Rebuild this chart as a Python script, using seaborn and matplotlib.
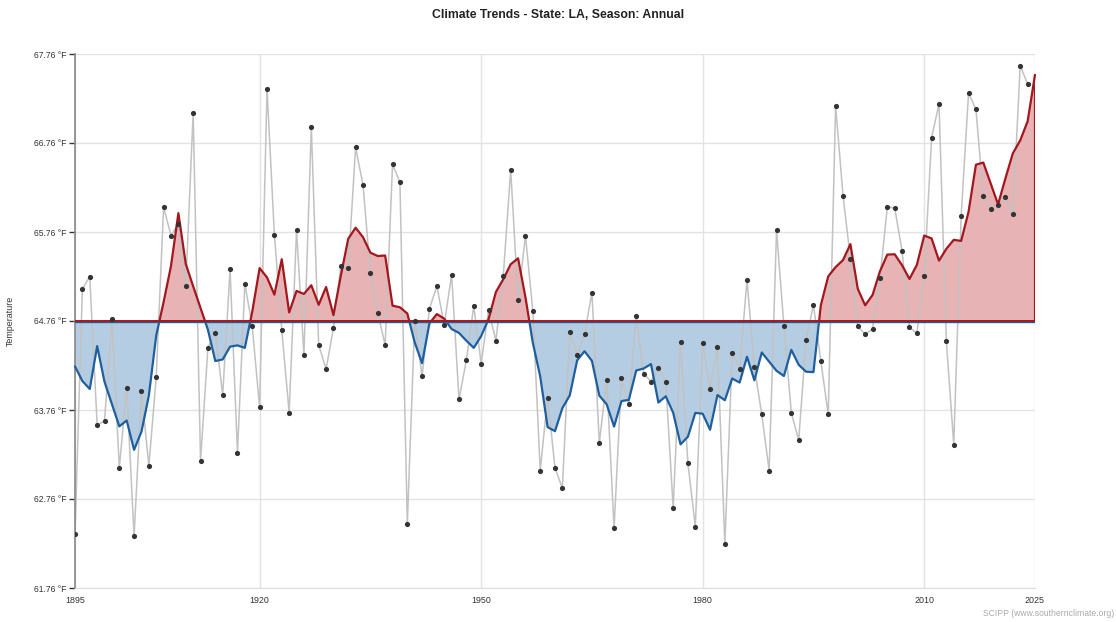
import numpy as np
import pandas as pd
import seaborn as sns
import matplotlib.pyplot as plt
from matplotlib.patches import Rectangle

# annual mean temperature, Louisiana [F]; 2025 has no value yet
years = list(range(1895, 2026))
temps = [62.37, 65.12, 65.26, 63.59, 63.64, 64.78, 63.11, 64.01, 62.34, 63.97,
         63.13, 64.13, 66.04, 65.72, 65.85, 65.15, 67.10, 63.19, 64.46, 64.63,
         63.93, 65.34, 63.28, 65.18, 64.70, 63.79, 67.37, 65.73, 64.66, 63.73,
         65.78, 64.38, 66.94, 64.49, 64.22, 64.68, 65.38, 65.36, 66.71, 66.29,
         65.30, 64.85, 64.49, 66.52, 66.32, 62.48, 64.76, 64.14, 64.90, 65.15,
         64.72, 65.28, 63.88, 64.32, 64.93, 64.28, 64.88, 64.54, 65.27, 66.46,
         65.00, 65.72, 64.87, 63.08, 63.90, 63.11, 62.88, 64.64, 64.38, 64.61,
         65.08, 63.39, 64.10, 62.43, 64.12, 63.83, 64.82, 64.17, 64.08, 64.23,
         64.08, 62.66, 64.52, 63.16, 62.45, 64.51, 64.00, 64.47, 62.26, 64.40,
         64.22, 65.22, 64.24, 63.71, 63.08, 65.78, 64.70, 63.73, 63.42, 64.55,
         64.94, 64.31, 63.71, 67.18, 66.17, 65.46, 64.70, 64.61, 64.67, 65.24,
         66.04, 66.03, 65.55, 64.69, 64.62, 65.27, 66.82, 67.20, 64.53, 63.37,
         65.94, 67.32, 67.14, 66.16, 66.02, 66.06, 66.15, 65.96, 67.63, 67.42,
         np.nan]
baseline = 64.76
y_ticks = [61.76, 62.76, 63.76, 64.76, 65.76, 66.76, 67.76]
x_ticks = [1895, 1920, 1950, 1980, 2010, 2025]

df = pd.DataFrame({"year": years, "temp": temps})
# 5 year centred running mean, as drawn by the original chart
df["trend"] = df["temp"].rolling(5, center=True, min_periods=1).mean()

sns.set_style("white")
plt.rcParams["font.family"] = ["Liberation Sans", "DejaVu Sans"]

fig = plt.figure(figsize=(11.16, 6.22), dpi=100)
ax = fig.add_axes([75 / 1116, 34 / 622, 960 / 1116, 534 / 622])

red_line = "#a3171e"
blue_line = "#1f5f9e"
x = df["year"].values
tr = df["trend"].values

ax.fill_between(x, baseline, tr, where=tr >= baseline, interpolate=True,
                facecolor="#e7b3b4", linewidth=0, zorder=1)
ax.fill_between(x, baseline, tr, where=tr <= baseline, interpolate=True,
                facecolor="#b5cde3", linewidth=0, zorder=1)

sns.lineplot(data=df, x="year", y="temp", ax=ax, color="#c2c2c2",
             linewidth=1.1, zorder=2)

sns.lineplot(data=df, x="year", y="trend", ax=ax, color=red_line,
             linewidth=1.6, zorder=3)
above = Rectangle((1890, baseline), 140, 10, transform=ax.transData)
ax.lines[-1].set_clip_path(above)
sns.lineplot(data=df, x="year", y="trend", ax=ax, color=blue_line,
             linewidth=1.6, zorder=3)
below = Rectangle((1890, baseline - 10), 140, 10, transform=ax.transData)
ax.lines[-1].set_clip_path(below)

ax.axhline(baseline - 0.012, color=blue_line, linewidth=1.0, zorder=3)
ax.axhline(baseline, color=red_line, linewidth=1.4, zorder=4)
ax.plot([2025, 2025], [baseline, tr[-1]], color=red_line, linewidth=1.6,
        zorder=4)

sns.scatterplot(data=df, x="year", y="temp", ax=ax, color="#333333", s=14,
                linewidth=0, zorder=5)

ax.set_xlim(1895, 2025)
ax.set_ylim(61.76, 67.76)
ax.set_xticks(x_ticks)
ax.set_xticklabels([str(t) for t in x_ticks])
ax.set_yticks(y_ticks)
ax.set_yticklabels(["%.2f \u00b0F" % t for t in y_ticks])
ax.grid(True, color="#e3e3e3", linewidth=1.0)
ax.set_axisbelow(True)
ax.tick_params(axis="y", which="both", labelsize=6.2, colors="#333333",
               length=4, width=1, left=True, pad=2)
ax.tick_params(axis="x", which="both", labelsize=6.4, colors="#333333",
               length=0, pad=6)
for side in ["top", "right"]:
    ax.spines[side].set_visible(False)
ax.spines["left"].set_color("#888888")
ax.spines["left"].set_linewidth(1.2)
ax.spines["bottom"].set_color("#dddddd")
ax.set_xlabel("")
ax.set_ylabel("Temperature", fontsize=6.4, color="#333333")
ax.yaxis.set_label_coords(-60 / 960, 0.5)

fig.text(0.5, 0.976, "Climate Trends - State: LA, Season: Annual",
         ha="center", va="center", fontsize=8.8, fontweight="bold",
         color="#222222")
fig.text(0.998, 0.013, "SCIPP (www.southernclimate.org)", ha="right",
         va="center", fontsize=6.2, color="#aaaaaa")

plt.savefig("out.png", dpi=100)
